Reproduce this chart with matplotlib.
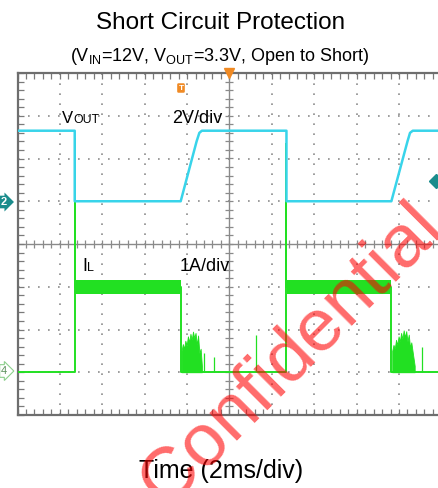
import numpy as np
import matplotlib
matplotlib.use("Agg")
import matplotlib.pyplot as plt

plt.rcParams["font.family"] = ["Liberation Sans", "DejaVu Sans"]
plt.rcParams["mathtext.fontset"] = "custom"
plt.rcParams["mathtext.rm"] = "Liberation Sans"
plt.rcParams["mathtext.it"] = "Liberation Sans"

## Data (time in ms, trigger at 0; 2 ms/div)

# Vout, 2V/div, ground on div +1
vout_t = [-10, -7.3, -7.3, -2.3, -1.55, -1.42, -1.3, 2.69, 2.69, 7.64, 8.4, 8.52, 8.65, 10]
vout_v = [3.3, 3.3, 0.0, 0.0, 2.8, 3.2, 3.3, 3.3, 0.0, 0.0, 2.8, 3.2, 3.3, 3.3]

# IL, 1A/div, ground on div -3
il_t = [-10, -7.3, -7.3, -7.3, -2.3, -2.3, 2.69, 2.69, 2.69, 7.64, 7.64, 10]
il_i = [0.0, 0.0, 5.46, 2.0, 2.0, 0.0, 0.0, 5.34, 2.0, 2.0, 0.0, 0.0]

# current limit band (switching ripple)
band_t1 = [-7.28, -2.3]
band_t2 = [2.71, 7.64]
band_lo = [1.84, 1.84]
band_hi = [2.16, 2.16]

# hiccup bursts after Vout falls
burst1_t = [-2.26, -2.2, -2.14, -2.08, -2.02, -1.96, -1.9, -1.84, -1.78, -1.72,
            -1.66, -1.6, -1.54, -1.48, -1.42, -1.36, -1.3]
burst1_i = [0.5, 0.66, 0.55, 0.74, 0.62, 0.84, 0.7, 0.9, 0.76, 0.95,
            0.8, 0.92, 0.64, 0.86, 0.45, 0.55, 0.15]
burst2_t = [7.68, 7.74, 7.8, 7.86, 7.92, 7.98, 8.04, 8.1, 8.16, 8.22,
            8.28, 8.34, 8.4, 8.46, 8.52, 8.58, 8.66, 8.74]
burst2_i = [0.5, 0.64, 0.55, 0.76, 0.64, 0.84, 0.72, 0.92, 0.78, 0.98,
            0.82, 0.96, 0.72, 0.88, 0.58, 0.7, 0.42, 0.15]
spike_t = [-1.2, -0.75, 1.23, 9.1]
spike_i = [0.45, 0.35, 0.86, 0.59]

trig_t = 9.74
trig_v = 0.95

CYAN = "#38d4ea"
GREEN = "#22e022"
GRID = "#8c8c8c"


def v2div(v):
    return np.asarray(v) / 2.0 + 1.0


def i2div(i):
    return np.asarray(i) - 3.0


def px(x, y):
    return x / 438.0, 1 - y / 488.0


fig = plt.figure(figsize=(4.38, 4.88), dpi=100)
ax = fig.add_axes([17.5 / 438, 1 - 415 / 488, 1 - 17.5 / 438, 342 / 488])
ax.set_xlim(-10, 9.84)
ax.set_ylim(-4, 4)

# scope graticule
for gx in np.arange(-8, 10, 2):
    if gx != 0:
        ax.axvline(gx, color=GRID, lw=1.2, ls=(0, (1, 5)), zorder=1)
for gy in np.arange(-3, 4, 1):
    if gy != 0:
        ax.axhline(gy, color=GRID, lw=1.2, ls=(0, (1, 5)), zorder=1)
ax.axvline(0, color="#8a8a8a", lw=1.0, zorder=1)
ax.axhline(0, color="#8a8a8a", lw=1.0, zorder=1)
tx = np.arange(-10, 10, 0.4)
ty = np.arange(-4, 4, 0.2)
ax.plot(tx, np.zeros_like(tx), ls="none", marker="|", ms=6, mew=0.9, color="#8a8a8a", zorder=1)
ax.plot(np.zeros_like(ty), ty, ls="none", marker="_", ms=6, mew=0.9, color="#8a8a8a", zorder=1)

ax.set_xticks(np.arange(-10, 10, 2))
ax.set_xticks(tx, minor=True)
ax.set_yticks(np.arange(-4, 5, 1))
ax.set_yticks(ty, minor=True)
ax.tick_params(which="both", direction="in", length=4, width=0.9, color="#7a7a7a",
               top=True, right=False, labelbottom=False, labelleft=False)
for s in ["left", "top", "bottom"]:
    ax.spines[s].set_color("#6e6e6e")
    ax.spines[s].set_linewidth(1.6)
ax.spines["right"].set_visible(False)

# IL trace
ax.plot(il_t, i2div(il_i), color=GREEN, lw=1.4, zorder=3)
ax.fill_between(band_t1, i2div(band_lo), i2div(band_hi), color=GREEN, lw=0, zorder=3)
ax.fill_between(band_t2, i2div(band_lo), i2div(band_hi), color=GREEN, lw=0, zorder=3)
ax.fill_between(burst1_t, i2div(0), i2div(burst1_i), color=GREEN, lw=0.6, zorder=3)
ax.fill_between(burst2_t, i2div(0), i2div(burst2_i), color=GREEN, lw=0.6, zorder=3)
ax.vlines(spike_t, i2div(0), i2div(spike_i), color=GREEN, lw=0.9, zorder=3)

# Vout trace
ax.plot(vout_t, v2div(vout_v), color=CYAN, lw=1.8, zorder=4)
ax.plot(trig_t, v2div(trig_v), marker="D", ms=7, color="#1a8c8c", zorder=5, clip_on=False)

# top markers
ax.plot(0, 4, marker="v", ms=7, color="#f08a24", zorder=6, clip_on=False)
fig.text(*px(181, 88), "T", color="white", fontsize=6, fontweight="bold", ha="center", va="center",
         bbox=dict(boxstyle="round,pad=0.15", fc="#f08a24", ec="none"))

# channel markers
fig.text(*px(1, 202), "2", color="white", fontsize=8, fontweight="bold", ha="left", va="center",
         bbox=dict(boxstyle="rarrow,pad=0.12", fc="#1a8c8c", ec="none"))
fig.text(*px(1, 371), "4", color="#5a8f5a", fontsize=8, ha="left", va="center",
         bbox=dict(boxstyle="rarrow,pad=0.12", fc="white", ec="#8ccf8c", lw=0.8))

# trace labels
fig.text(*px(62, 123), "V", fontsize=12, va="baseline")
fig.text(*px(73.5, 123), "OUT", fontsize=8.8, va="baseline")
fig.text(*px(172, 123), "2V/div", fontsize=13, va="baseline")
fig.text(*px(82.5, 271), "I", fontsize=13, va="baseline")
fig.text(*px(87, 271), "L", fontsize=9, va="baseline")
fig.text(*px(180, 271), "1A/div", fontsize=13, va="baseline")

# titles
fig.text(*px(221, 29), "Short Circuit Protection", fontsize=17.5, ha="center", va="baseline")
fig.text(*px(220, 61), r"(V$_{\mathrm{IN}}$=12V, V$_{\mathrm{OUT}}$=3.3V, Open to Short)",
         fontsize=13, ha="center", va="baseline")
fig.text(*px(221, 478), "Time (2ms/div)", fontsize=18, ha="center", va="baseline")

# watermark
fig.text(*px(291, 355), "Confidential", fontsize=54, color="red", alpha=0.58,
         rotation=45, rotation_mode="anchor", ha="center", va="center", zorder=10)

plt.savefig("out.png", dpi=100)
